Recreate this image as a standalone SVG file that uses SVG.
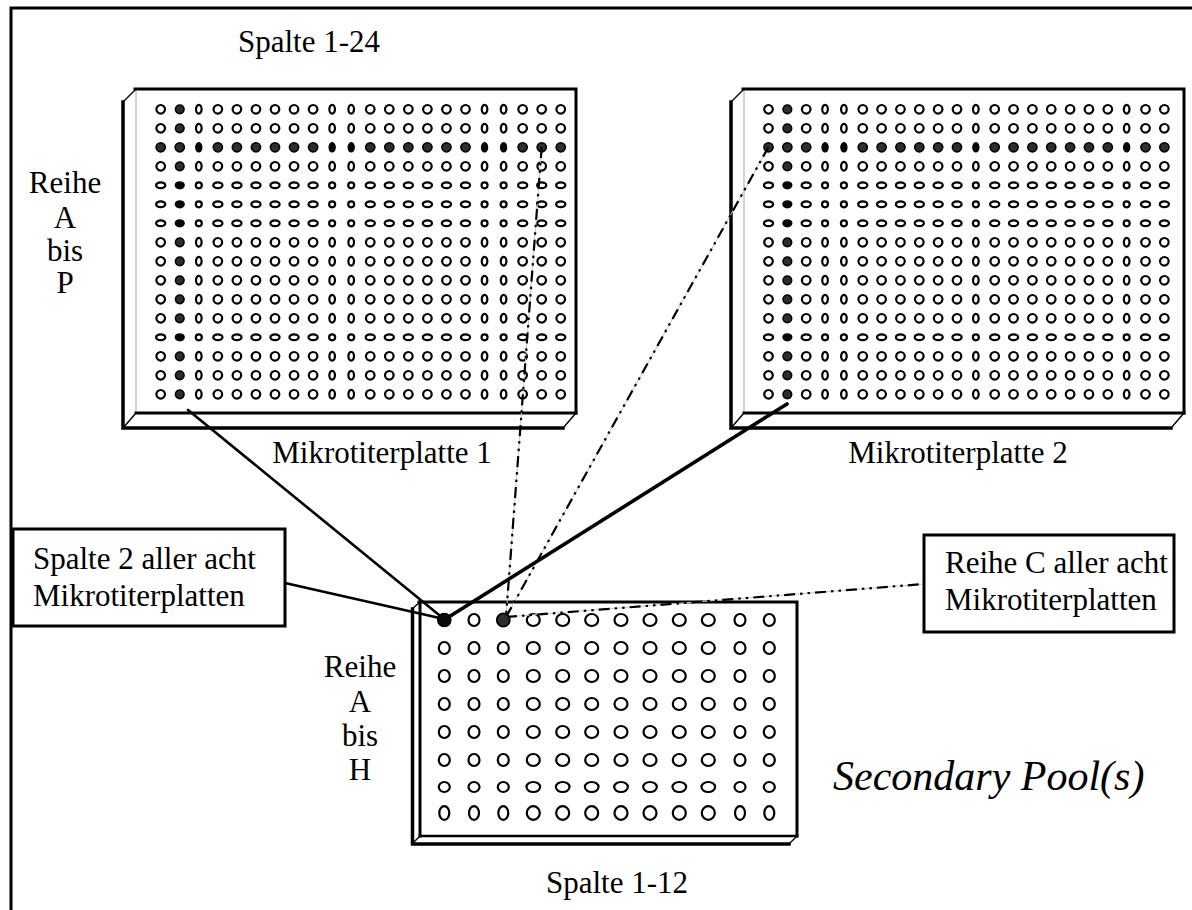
<svg xmlns="http://www.w3.org/2000/svg" width="1192" height="910" viewBox="0 0 1192 910">
<style>
text{font-family:"Liberation Serif","Times New Roman",serif;fill:#000}
.lbl{font-size:31px}
.it{font-size:42px;font-style:italic}
.w{fill:#fff;stroke:#000;stroke-width:2.2}
.k{fill:#2e2e2e;stroke:#000;stroke-width:1.6}
.kk{fill:#080808;stroke:#000;stroke-width:1.4}
.edge{fill:none;stroke:#000;stroke-linecap:square}
.thin{fill:none;stroke:#000;stroke-width:1.4}
.gray{fill:none;stroke:#b4b4b4;stroke-width:1.2}
.solid{fill:none;stroke:#000;stroke-linecap:round}
.dd{fill:none;stroke:#000;stroke-width:2.2;stroke-dasharray:11 5 2.5 5 2.5 5}
.ddbg{fill:none;stroke:#c8c8c8;stroke-width:1}
.box{fill:#fff;stroke:#000;stroke-width:3}
</style>
<defs>
<g id="r1n" class="w">
<circle cx="0" r="4.3"/><circle cx="19.05" r="4.3" class="k"/><ellipse cx="38.1" rx="2.8" ry="4.4"/><circle cx="57.15" r="4.3"/><circle cx="76.2" r="4.3"/><circle cx="95.25" r="4.3"/><circle cx="114.3" r="4.3"/><circle cx="133.35" r="4.3"/><circle cx="152.4" r="4.3"/><ellipse cx="171.45" rx="2.8" ry="4.4"/><ellipse cx="190.5" rx="2.8" ry="4.4"/><circle cx="209.55" r="4.3"/><circle cx="228.6" r="4.3"/><circle cx="247.65" r="4.3"/><circle cx="266.7" r="4.3"/><circle cx="285.75" r="4.3"/><circle cx="304.8" r="4.3"/><ellipse cx="323.85" rx="2.8" ry="4.4"/><ellipse cx="342.9" rx="2.8" ry="4.4"/><circle cx="361.95" r="4.3"/><circle cx="381" r="4.3"/><circle cx="400.05" r="4.3"/>
</g>
<g id="r1f" class="w">
<ellipse cx="0" rx="4.6" ry="2.9"/><ellipse cx="19.05" rx="4.4" ry="3.4" class="kk"/><circle cx="38.1" r="3"/><ellipse cx="57.15" rx="4.6" ry="2.9"/><ellipse cx="76.2" rx="4.6" ry="2.9"/><ellipse cx="95.25" rx="4.6" ry="2.9"/><ellipse cx="114.3" rx="4.6" ry="2.9"/><ellipse cx="133.35" rx="4.6" ry="2.9"/><ellipse cx="152.4" rx="4.6" ry="2.9"/><circle cx="171.45" r="3"/><circle cx="190.5" r="3"/><ellipse cx="209.55" rx="4.6" ry="2.9"/><ellipse cx="228.6" rx="4.6" ry="2.9"/><ellipse cx="247.65" rx="4.6" ry="2.9"/><ellipse cx="266.7" rx="4.6" ry="2.9"/><ellipse cx="285.75" rx="4.6" ry="2.9"/><ellipse cx="304.8" rx="4.6" ry="2.9"/><circle cx="323.85" r="3"/><circle cx="342.9" r="3"/><ellipse cx="361.95" rx="4.6" ry="2.9"/><ellipse cx="381" rx="4.6" ry="2.9"/><ellipse cx="400.05" rx="4.6" ry="2.9"/>
</g>
<g id="r1d" class="k">
<circle cx="0" r="4.6"/><circle cx="19.05" r="4.6"/><ellipse cx="38.1" rx="3" ry="4.6" class="kk"/><circle cx="57.15" r="4.6"/><circle cx="76.2" r="4.6"/><circle cx="95.25" r="4.6"/><circle cx="114.3" r="4.6"/><circle cx="133.35" r="4.6"/><circle cx="152.4" r="4.6"/><ellipse cx="171.45" rx="3" ry="4.6" class="kk"/><ellipse cx="190.5" rx="3" ry="4.6" class="kk"/><circle cx="209.55" r="4.6"/><circle cx="228.6" r="4.6"/><circle cx="247.65" r="4.6"/><circle cx="266.7" r="4.6"/><circle cx="285.75" r="4.6"/><circle cx="304.8" r="4.6"/><ellipse cx="323.85" rx="3" ry="4.6" class="kk"/><ellipse cx="342.9" rx="3" ry="4.6" class="kk"/><circle cx="361.95" r="4.6"/><circle cx="381" r="4.6"/><circle cx="400.05" r="4.6"/>
</g>
<g id="r2n" class="w">
<circle cx="0" r="4.3"/><circle cx="18.85" r="4.3" class="k"/><circle cx="37.7" r="4.3"/><ellipse cx="56.55" rx="2.8" ry="4.4"/><ellipse cx="75.4" rx="2.8" ry="4.4"/><circle cx="94.25" r="4.3"/><circle cx="113.1" r="4.3"/><circle cx="131.95" r="4.3"/><circle cx="150.8" r="4.3"/><circle cx="169.65" r="4.3"/><circle cx="188.5" r="4.3"/><ellipse cx="207.35" rx="2.8" ry="4.4"/><circle cx="226.2" r="4.3"/><circle cx="245.05" r="4.3"/><circle cx="263.9" r="4.3"/><circle cx="282.75" r="4.3"/><circle cx="301.6" r="4.3"/><circle cx="320.45" r="4.3"/><circle cx="339.3" r="4.3"/><ellipse cx="358.15" rx="2.8" ry="4.4"/><circle cx="377" r="4.3"/><circle cx="395.85" r="4.3"/>
</g>
<g id="r2f" class="w">
<ellipse cx="0" rx="4.6" ry="2.9"/><ellipse cx="18.85" rx="4.4" ry="3.4" class="kk"/><ellipse cx="37.7" rx="4.6" ry="2.9"/><circle cx="56.55" r="3"/><circle cx="75.4" r="3"/><ellipse cx="94.25" rx="4.6" ry="2.9"/><ellipse cx="113.1" rx="4.6" ry="2.9"/><ellipse cx="131.95" rx="4.6" ry="2.9"/><ellipse cx="150.8" rx="4.6" ry="2.9"/><ellipse cx="169.65" rx="4.6" ry="2.9"/><ellipse cx="188.5" rx="4.6" ry="2.9"/><circle cx="207.35" r="3"/><ellipse cx="226.2" rx="4.6" ry="2.9"/><ellipse cx="245.05" rx="4.6" ry="2.9"/><ellipse cx="263.9" rx="4.6" ry="2.9"/><ellipse cx="282.75" rx="4.6" ry="2.9"/><ellipse cx="301.6" rx="4.6" ry="2.9"/><ellipse cx="320.45" rx="4.6" ry="2.9"/><ellipse cx="339.3" rx="4.6" ry="2.9"/><circle cx="358.15" r="3"/><ellipse cx="377" rx="4.6" ry="2.9"/><ellipse cx="395.85" rx="4.6" ry="2.9"/>
</g>
<g id="r2d" class="k">
<circle cx="0" r="4.6"/><circle cx="18.85" r="4.6"/><circle cx="37.7" r="4.6"/><ellipse cx="56.55" rx="3" ry="4.6" class="kk"/><ellipse cx="75.4" rx="3" ry="4.6" class="kk"/><circle cx="94.25" r="4.6"/><circle cx="113.1" r="4.6"/><circle cx="131.95" r="4.6"/><circle cx="150.8" r="4.6"/><circle cx="169.65" r="4.6"/><circle cx="188.5" r="4.6"/><ellipse cx="207.35" rx="3" ry="4.6" class="kk"/><circle cx="226.2" r="4.6"/><circle cx="245.05" r="4.6"/><circle cx="263.9" r="4.6"/><circle cx="282.75" r="4.6"/><circle cx="301.6" r="4.6"/><circle cx="320.45" r="4.6"/><circle cx="339.3" r="4.6"/><ellipse cx="358.15" rx="3" ry="4.6" class="kk"/><circle cx="377" r="4.6"/><circle cx="395.85" r="4.6"/>
</g>
<g id="body384">
<path d="M13,0 H453 V324 L440,339 H0 V13 Z" fill="#fff"/>
<path class="gray" d="M13,0 V324"/>
<path class="thin" d="M0,13 L13,0 M0,339 L13,324 M440,339 L453,324"/>
<path class="edge" stroke-width="3" d="M12,0 H453 V324"/>
<path class="edge" stroke-width="3" d="M13,324 H453"/>
<path class="edge" stroke-width="3.5" d="M0,13 V339 H440"/>
</g>
<g id="rb" class="w">
<ellipse cx="0" rx="5.5" ry="6"/><ellipse cx="29.7" rx="5.5" ry="6"/><ellipse cx="59" rx="5.5" ry="6"/><ellipse cx="89" rx="6.5" ry="6"/><ellipse cx="118.4" rx="6.5" ry="6"/><ellipse cx="147.4" rx="6.5" ry="6"/><ellipse cx="176.7" rx="6.5" ry="6"/><ellipse cx="205.7" rx="6.5" ry="6"/><ellipse cx="235" rx="6.5" ry="6"/><ellipse cx="264" rx="6.5" ry="6"/><ellipse cx="295.7" rx="5.5" ry="6"/><ellipse cx="325" rx="5.5" ry="6"/>
</g>
<g id="rbf" class="w">
<ellipse cx="0" rx="5.5" ry="5"/><ellipse cx="29.7" rx="5.5" ry="5"/><ellipse cx="59" rx="5.5" ry="5"/><ellipse cx="89" rx="6.8" ry="5"/><ellipse cx="118.4" rx="6.8" ry="5"/><ellipse cx="147.4" rx="6.8" ry="5"/><ellipse cx="176.7" rx="6.8" ry="5"/><ellipse cx="205.7" rx="6.8" ry="5"/><ellipse cx="235" rx="6.8" ry="5"/><ellipse cx="264" rx="6.8" ry="5"/><ellipse cx="295.7" rx="5.5" ry="5"/><ellipse cx="325" rx="5.5" ry="5"/>
</g>
<g id="rbt" class="w">
<ellipse cx="0" rx="5" ry="6.8"/><ellipse cx="29.7" rx="5" ry="6.8"/><ellipse cx="59" rx="5" ry="6.8"/><ellipse cx="89" rx="6.5" ry="6.8"/><ellipse cx="118.4" rx="6.5" ry="6.8"/><ellipse cx="147.4" rx="6.5" ry="6.8"/><ellipse cx="176.7" rx="6.5" ry="6.8"/><ellipse cx="205.7" rx="6.5" ry="6.8"/><ellipse cx="235" rx="6.5" ry="6.8"/><ellipse cx="264" rx="6.5" ry="6.8"/><ellipse cx="295.7" rx="5" ry="6.8"/><ellipse cx="325" rx="5" ry="6.8"/>
</g>
</defs>

<rect width="1192" height="910" fill="#fff"/>
<g id="frame"><path class="edge" stroke-width="3" d="M11,8 H1192 M11,8 V912"/></g>

<g id="plate1">
<use href="#body384" x="123" y="89"/>
<use href="#r1n" x="160.7" y="109.3"/>
<use href="#r1n" x="160.7" y="128.3"/>
<use href="#r1d" x="160.7" y="147.3"/>
<use href="#r1n" x="160.7" y="166.3"/>
<use href="#r1f" x="160.7" y="185.3"/>
<use href="#r1f" x="160.7" y="204.3"/>
<use href="#r1f" x="160.7" y="223.3"/>
<use href="#r1n" x="160.7" y="242.3"/>
<use href="#r1n" x="160.7" y="261.3"/>
<use href="#r1n" x="160.7" y="280.3"/>
<use href="#r1n" x="160.7" y="299.3"/>
<use href="#r1n" x="160.7" y="318.3"/>
<use href="#r1f" x="160.7" y="337.3"/>
<use href="#r1n" x="160.7" y="356.3"/>
<use href="#r1n" x="160.7" y="375.3"/>
<use href="#r1n" x="160.7" y="394.3"/>
<text class="lbl" x="238" y="52">Spalte 1-24</text>
<text class="lbl" x="65" y="193" text-anchor="middle">Reihe</text>
<text class="lbl" x="65" y="228" text-anchor="middle">A</text>
<text class="lbl" x="65" y="261" text-anchor="middle">bis</text>
<text class="lbl" x="65" y="293" text-anchor="middle">P</text>
<text class="lbl" x="382" y="463" text-anchor="middle">Mikrotiterplatte 1</text>
</g>

<g id="plate2">
<use href="#body384" x="731" y="89"/>
<use href="#r2n" x="768.5" y="109.3"/>
<use href="#r2n" x="768.5" y="128.3"/>
<use href="#r2d" x="768.5" y="147.3"/>
<use href="#r2n" x="768.5" y="166.3"/>
<use href="#r2f" x="768.5" y="185.3"/>
<use href="#r2f" x="768.5" y="204.3"/>
<use href="#r2f" x="768.5" y="223.3"/>
<use href="#r2n" x="768.5" y="242.3"/>
<use href="#r2n" x="768.5" y="261.3"/>
<use href="#r2n" x="768.5" y="280.3"/>
<use href="#r2n" x="768.5" y="299.3"/>
<use href="#r2n" x="768.5" y="318.3"/>
<use href="#r2f" x="768.5" y="337.3"/>
<use href="#r2n" x="768.5" y="356.3"/>
<use href="#r2n" x="768.5" y="375.3"/>
<use href="#r2n" x="768.5" y="394.3"/>
<text class="lbl" x="958" y="463" text-anchor="middle">Mikrotiterplatte 2</text>
</g>

<g id="pool-plate">
<path d="M420,602 H797 V836 L789,844 H412 V609 Z" fill="#fff"/>
<path class="thin" d="M412,609 L420,602 M412,844 L420,836 M789,844 L797,836"/>
<path class="edge" stroke-width="3" d="M419,602 H797 V836"/>
<path class="edge" stroke-width="2.6" d="M420,836 H797"/>
<path class="edge" stroke-width="3" d="M420,602 V836"/>
<path class="edge" stroke-width="3.5" d="M412.5,609 V844 H789"/>
<use href="#rb" x="444.3" y="620"/>
<use href="#rb" x="444.3" y="648"/>
<use href="#rb" x="444.3" y="676"/>
<use href="#rb" x="444.3" y="704"/>
<use href="#rb" x="444.3" y="732"/>
<use href="#rb" x="444.3" y="760"/>
<use href="#rbf" x="444.3" y="787"/>
<use href="#rbt" x="444.3" y="813"/>
<text class="lbl" x="360" y="677" text-anchor="middle">Reihe</text>
<text class="lbl" x="360" y="712" text-anchor="middle">A</text>
<text class="lbl" x="360" y="746" text-anchor="middle">bis</text>
<text class="lbl" x="360" y="780" text-anchor="middle">H</text>
<text class="lbl" x="617" y="893" text-anchor="middle">Spalte 1-12</text>
<text class="it" x="833" y="790">Secondary Pool(s)</text>
</g>

<g id="connectors">
<path class="ddbg" d="M541.7,147 L506,617"/>
<path class="dd" d="M541.7,147 L506,617"/>
<path class="ddbg" d="M768.5,147 L506,617"/>
<path class="dd" d="M768.5,147 L506,617"/>
<path class="ddbg" d="M506,617 L924,584"/>
<path class="dd" d="M506,617 L924,584"/>
<path class="solid" stroke-width="2.6" d="M188,410 L444,619"/>
<path class="solid" stroke-width="3.6" d="M787,404 L444,620"/>
<path class="solid" stroke-width="2.6" d="M285,583 L444,619"/>
</g>

<g id="pool-wells">
<ellipse class="kk" cx="444.3" cy="620" rx="6.6" ry="6.6"/>
<ellipse class="k" cx="503.3" cy="620" rx="6.6" ry="6.6"/>
</g>

<g id="label-col2">
<rect class="box" x="13" y="529" width="272" height="97"/>
<text class="lbl" x="33" y="569">Spalte 2 aller acht</text>
<text class="lbl" x="33" y="606">Mikrotiterplatten</text>
</g>

<g id="label-rowC">
<rect class="box" x="924" y="535" width="250" height="97"/>
<text class="lbl" x="945" y="573">Reihe C aller acht</text>
<text class="lbl" x="945" y="610">Mikrotiterplatten</text>
</g>
</svg>
